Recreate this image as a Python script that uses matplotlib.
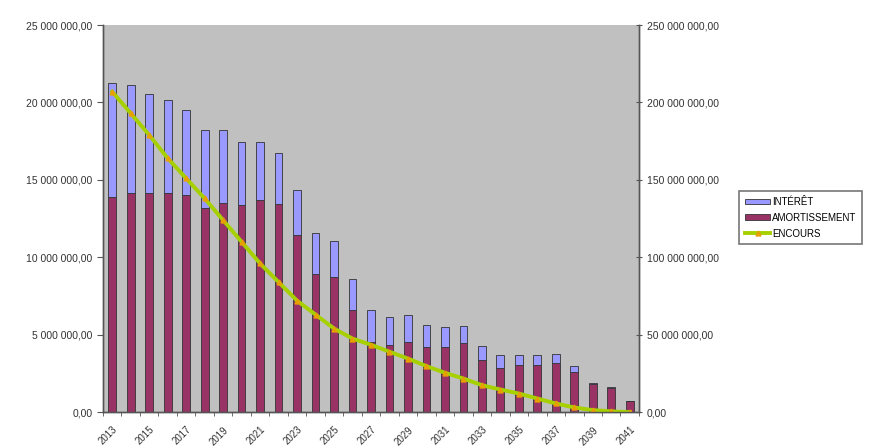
import numpy as np
import matplotlib
matplotlib.use('Agg')
import matplotlib.pyplot as plt
from matplotlib.ticker import FuncFormatter, MultipleLocator

plt.rcParams['font.family'] = ['Liberation Sans', 'DejaVu Sans']

# values, in millions
years = list(range(2013, 2042))
amortissement = [13.90, 14.17, 14.17, 14.17, 14.02, 13.18, 13.50, 13.35, 13.68, 13.46,
                 11.46, 8.95, 8.73, 6.58, 4.54, 4.32, 4.54, 4.21, 4.21, 4.47,
                 3.35, 2.86, 3.03, 3.03, 3.18, 2.60, 1.83, 1.57, 0.72]
interet = [7.35, 6.93, 6.39, 5.96, 5.51, 5.01, 4.69, 4.09, 3.76, 3.27,
           2.86, 2.62, 2.32, 2.04, 2.04, 1.83, 1.72, 1.40, 1.29, 1.08,
           0.91, 0.82, 0.65, 0.65, 0.56, 0.39, 0.03, 0.03, 0.02]
encours = [207, 193, 179, 164, 151, 138, 124, 110, 96, 84,
           72, 63, 54, 47.5, 43.5, 39, 34.6, 29.7, 25.4, 21.7,
           17.4, 14.6, 12, 8.8, 5.6, 3, 1.3, 0.5, 0]
labels = ['INTÉRÊT', 'AMORTISSEMENT', 'ENCOURS']

amort = np.array(amortissement) * 1e6
inte = np.array(interet) * 1e6
enc = np.array(encours) * 1e6
x = np.arange(len(years))


def fr_fmt(v, pos):
    s = '{:,.2f}'.format(v)
    return s.replace(',', ' ').replace('.', ',')


fig = plt.figure(figsize=(8.77, 4.47), dpi=100)
ax = fig.add_axes([0.1174, 0.078, 0.6112, 0.866])
ax.set_facecolor('#C0C0C0')

b1 = ax.bar(x, amort, width=0.42, color='#993366', edgecolor='#333333', linewidth=0.6,
            label=labels[1])
b2 = ax.bar(x, inte, bottom=amort, width=0.42, color='#9999FF', edgecolor='#333333',
            linewidth=0.6, label=labels[0])
ax.set_xlim(-0.5, len(years) - 0.5)
ax.set_ylim(0, 25e6)
ax.yaxis.set_major_locator(MultipleLocator(5e6))
ax.yaxis.set_major_formatter(FuncFormatter(fr_fmt))

ax2 = ax.twinx()
ln, = ax2.plot(x, enc, color='#A6D000', linewidth=2.8, marker='^', markersize=3.5,
               markerfacecolor='#E8A000', markeredgecolor='#E8A000', label=labels[2])
ax2.set_ylim(0, 250e6)
ax2.yaxis.set_major_locator(MultipleLocator(50e6))
ax2.yaxis.set_major_formatter(FuncFormatter(fr_fmt))

ax.set_xticks(x[::2])
ax.set_xticklabels([str(y) for y in years[::2]], rotation=45, ha='right',
                   rotation_mode='anchor', fontsize=7, color='#333333')
ax.set_xticks(np.arange(len(years) + 1) - 0.5, minor=True)
ax.tick_params(axis='x', which='major', length=0, pad=9)
ax.tick_params(axis='x', which='minor', length=3, color='#555555')
ax.tick_params(axis='y', labelsize=7.5, labelcolor='#333333', length=4, color='#555555')
ax2.tick_params(axis='y', labelsize=7.5, labelcolor='#333333', length=4, color='#555555',
                direction='inout')

for a in (ax, ax2):
    a.spines['top'].set_visible(False)
    for s in ('left', 'right', 'bottom'):
        a.spines[s].set_color('#555555')
        a.spines[s].set_linewidth(1.0)

leg = fig.legend([b2, b1, ln], labels, loc='center left', bbox_to_anchor=(0.843, 0.513),
                 fontsize=7, frameon=True, fancybox=False, edgecolor='#555555',
                 handlelength=2.6, handleheight=0.5, handletextpad=0.2, borderpad=0.6,
                 labelspacing=0.6, borderaxespad=0)
leg.get_frame().set_linewidth(1.2)

fig.savefig('out.png', dpi=100, facecolor='white')
